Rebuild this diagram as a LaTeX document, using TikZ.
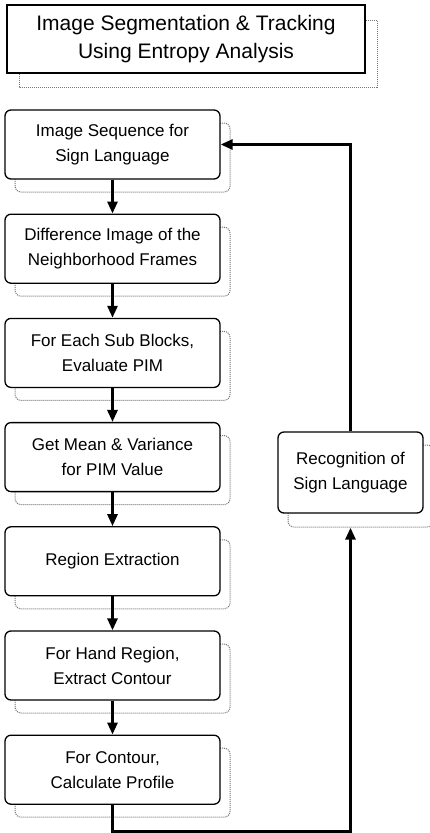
\documentclass[tikz,border=0pt]{standalone}
\usepackage{fontspec}
\setmainfont{Liberation Sans}
\usetikzlibrary{calc,arrows.meta}
\begin{document}
\begin{tikzpicture}[x=1pt,y=-1pt,
  stepbox/.style={draw=black,line width=1.3pt,rounded corners=6pt,fill=white,
    minimum width=215pt,minimum height=69pt,align=center,inner sep=0pt,
    font=\fontsize{17pt}{25pt}\selectfont},
  shadowbox/.style={draw=black!55,line width=1pt,densely dotted,rounded corners=6pt},
  flow/.style={line width=2.8pt,-{Triangle[length=12pt,width=10pt]}},
  plain/.style={line width=2.8pt}]
\useasboundingbox (0,0) rectangle (429,833);
% title
\draw[black!55,line width=1pt,densely dotted] (19,20) rectangle (377,87);
\node[draw=black,line width=1.3pt,fill=white,minimum width=358pt,minimum height=68pt,
  inner sep=0pt,align=center,font=\fontsize{21pt}{28pt}\selectfont] (title) at (186,39)
  {Image Segmentation \& Tracking\\Using Entropy Analysis};
% boxes
\foreach \i/\t in {1/{Image Sequence for\\Sign Language},
                   2/{Difference Image of the\\Neighborhood Frames},
                   3/{For Each Sub Blocks,\\Evaluate PIM},
                   4/{Get Mean \& Variance\\for PIM Value},
                   5/{Region Extraction},
                   6/{For Hand Region,\\Extract Contour},
                   7/{For Contour,\\Calculate Profile}}{
  \pgfmathsetmacro{\cy}{144.5+(\i-1)*104.2}
  \draw[shadowbox] (15,\cy-34.5+13) rectangle (230,\cy+34.5+13);
  \node[stepbox] (b\i) at (112.5,\cy) {\t};
}
\draw[shadowbox] (288,445) rectangle (433,527);
\node[stepbox,minimum width=145pt,minimum height=81pt] (rec) at (350.5,472.5)
  {Recognition of\\Sign Language};
% arrows
\foreach \i [evaluate=\i as \j using int(\i+1)] in {1,...,6}{
  \draw[flow] (b\i.south) -- (b\j.north);
}
\coordinate (recin) at ($(rec.south)+(0,14)$);
\coordinate (c1) at ($(b7.south)+(0,27)$);
\coordinate (c2) at (rec.south |- c1);
\coordinate (c3) at (rec.north |- b1.east);
\draw[flow] (b7.south) -- (c1) -- (c2) -- (recin);
\draw[flow] (rec.north) -- (c3) -- (b1.east);
\end{tikzpicture}
\end{document}
